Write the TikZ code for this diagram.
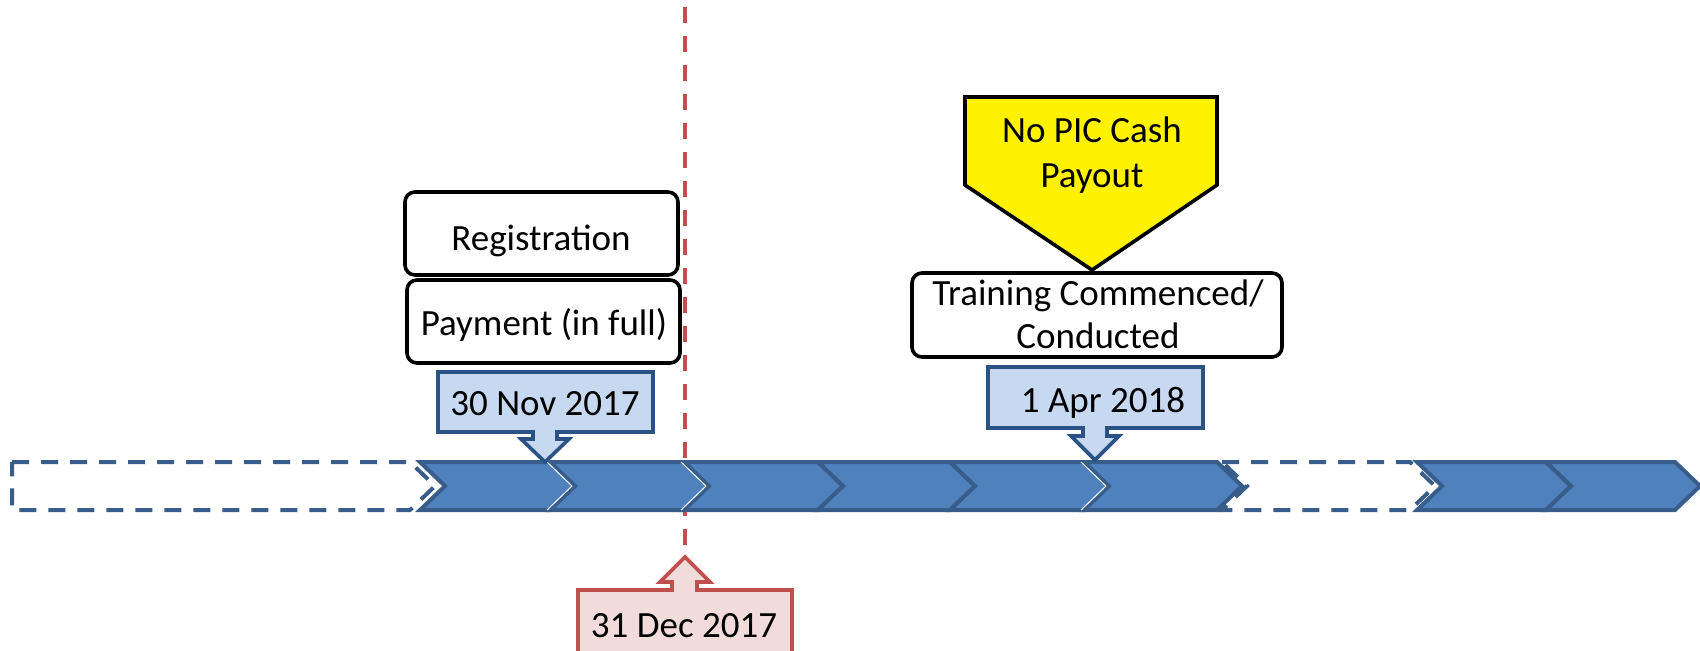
\documentclass[tikz,border=0pt]{standalone}
\usepackage{fontspec}
\setmainfont{Carlito}
\definecolor{chevfill}{HTML}{4F81BD}
\definecolor{chevline}{HTML}{385D8A}
\definecolor{callfill}{HTML}{C6D9F1}
\definecolor{callline}{HTML}{2A5285}
\definecolor{redline}{HTML}{C0504D}
\definecolor{redfill}{HTML}{F2DCDB}
\begin{document}
\begin{tikzpicture}[x=0.5pt,y=-0.5pt,
  chev/.style={fill=chevfill,draw=chevline,line width=2pt},
  dchev/.style={draw=chevline,line width=2pt,dash pattern=on 8.5pt off 6pt},
  bluecall/.style={fill=callfill,draw=callline,line width=1.8pt},
  redcall/.style={fill=redfill,draw=redline,line width=1.8pt},
  rbox/.style={draw=black,line width=1.8pt,rounded corners=5pt,fill=white},
  yellowbox/.style={fill=yellow,draw=black,line width=1.8pt},
  reddash/.style={draw=redline,line width=2pt,dash pattern=on 8pt off 6.5pt},
  lbl/.style={font=\fontsize{18.5pt}{22pt}\selectfont,inner sep=0pt,anchor=base},
]
\useasboundingbox (0,0) rectangle (1700,650);
\clip (0,0) rectangle (1700,650);

% red dashed date line
\coordinate (redtop) at (685,7);
\coordinate (dectip) at (685,557);
\draw[reddash] (redtop) -- (dectip);

% dashed chevrons
\draw[dchev] (12,462) -- (410,462) -- (435,486) -- (410,510) -- (12,510) -- cycle;
\draw[dchev] (1222,462) -- (1410,462) -- (1435,486) -- (1410,510) -- (1222,510) -- (1247,486) -- cycle;

% solid chevrons
\foreach \a/\b in {420/550,550/684,684/818,818/950,950/1084,1084/1217,1417/1546,1546/1675}
  \draw[chev] (\a,462) -- (\b,462) -- ({\b+25},486) -- (\b,510) -- (\a,510) -- ({\a+25},486) -- cycle;
\foreach \a in {550,684,1084}
  \draw[white,line width=0.5pt] ({\a-3},462) -- ({\a+22},486) -- ({\a-3},510);

% callout 30 Nov 2017
\draw[bluecall] (438,372) -- (653,372) -- (653,432) -- (557,432) -- (557,439) -- (569,439) -- (545,462) -- (521,439) -- (533,439) -- (533,432) -- (438,432) -- cycle;
\node[lbl] (nov) at (545,415) {30 Nov 2017};

% callout 1 Apr 2018
\draw[bluecall] (988,367) -- (1203,367) -- (1203,428) -- (1107,428) -- (1107,436) -- (1119,436) -- (1095,460) -- (1071,436) -- (1083,436) -- (1083,428) -- (988,428) -- cycle;
\node[lbl] (apr) at (1103,412) {1 Apr 2018};

% callout 31 Dec 2017
\draw[redcall] (578,590) -- (672,590) -- (672,582) -- (660,582) -- (dectip) -- (710,582) -- (697,582) -- (697,590) -- (792,590) -- (792,665) -- (578,665) -- cycle;
\node[lbl] (dec) at (684,637) {31 Dec 2017};

% rounded boxes
\draw[rbox] (405,192) rectangle (678,275);
\node[lbl] (reg) at (541,250) {Registration};
\draw[rbox] (407,280) rectangle (680,363);
\node[lbl] (pay) at (544,335) {Payment (in full)};
\draw[rbox] (912,273) rectangle (1282,357);
\node[lbl,align=center,font=\fontsize{18.5pt}{21.5pt}\selectfont] (train) at (1098,348) {Training Commenced/\\Conducted};

% yellow pentagon
\draw[yellowbox] (965,97) -- (1217,97) -- (1217,185) -- (1092,270) -- (965,185) -- cycle;
\node[lbl,align=center,font=\fontsize{18.5pt}{22.5pt}\selectfont] (pic) at (1092,187) {No PIC Cash\\Payout};
\end{tikzpicture}
\end{document}
